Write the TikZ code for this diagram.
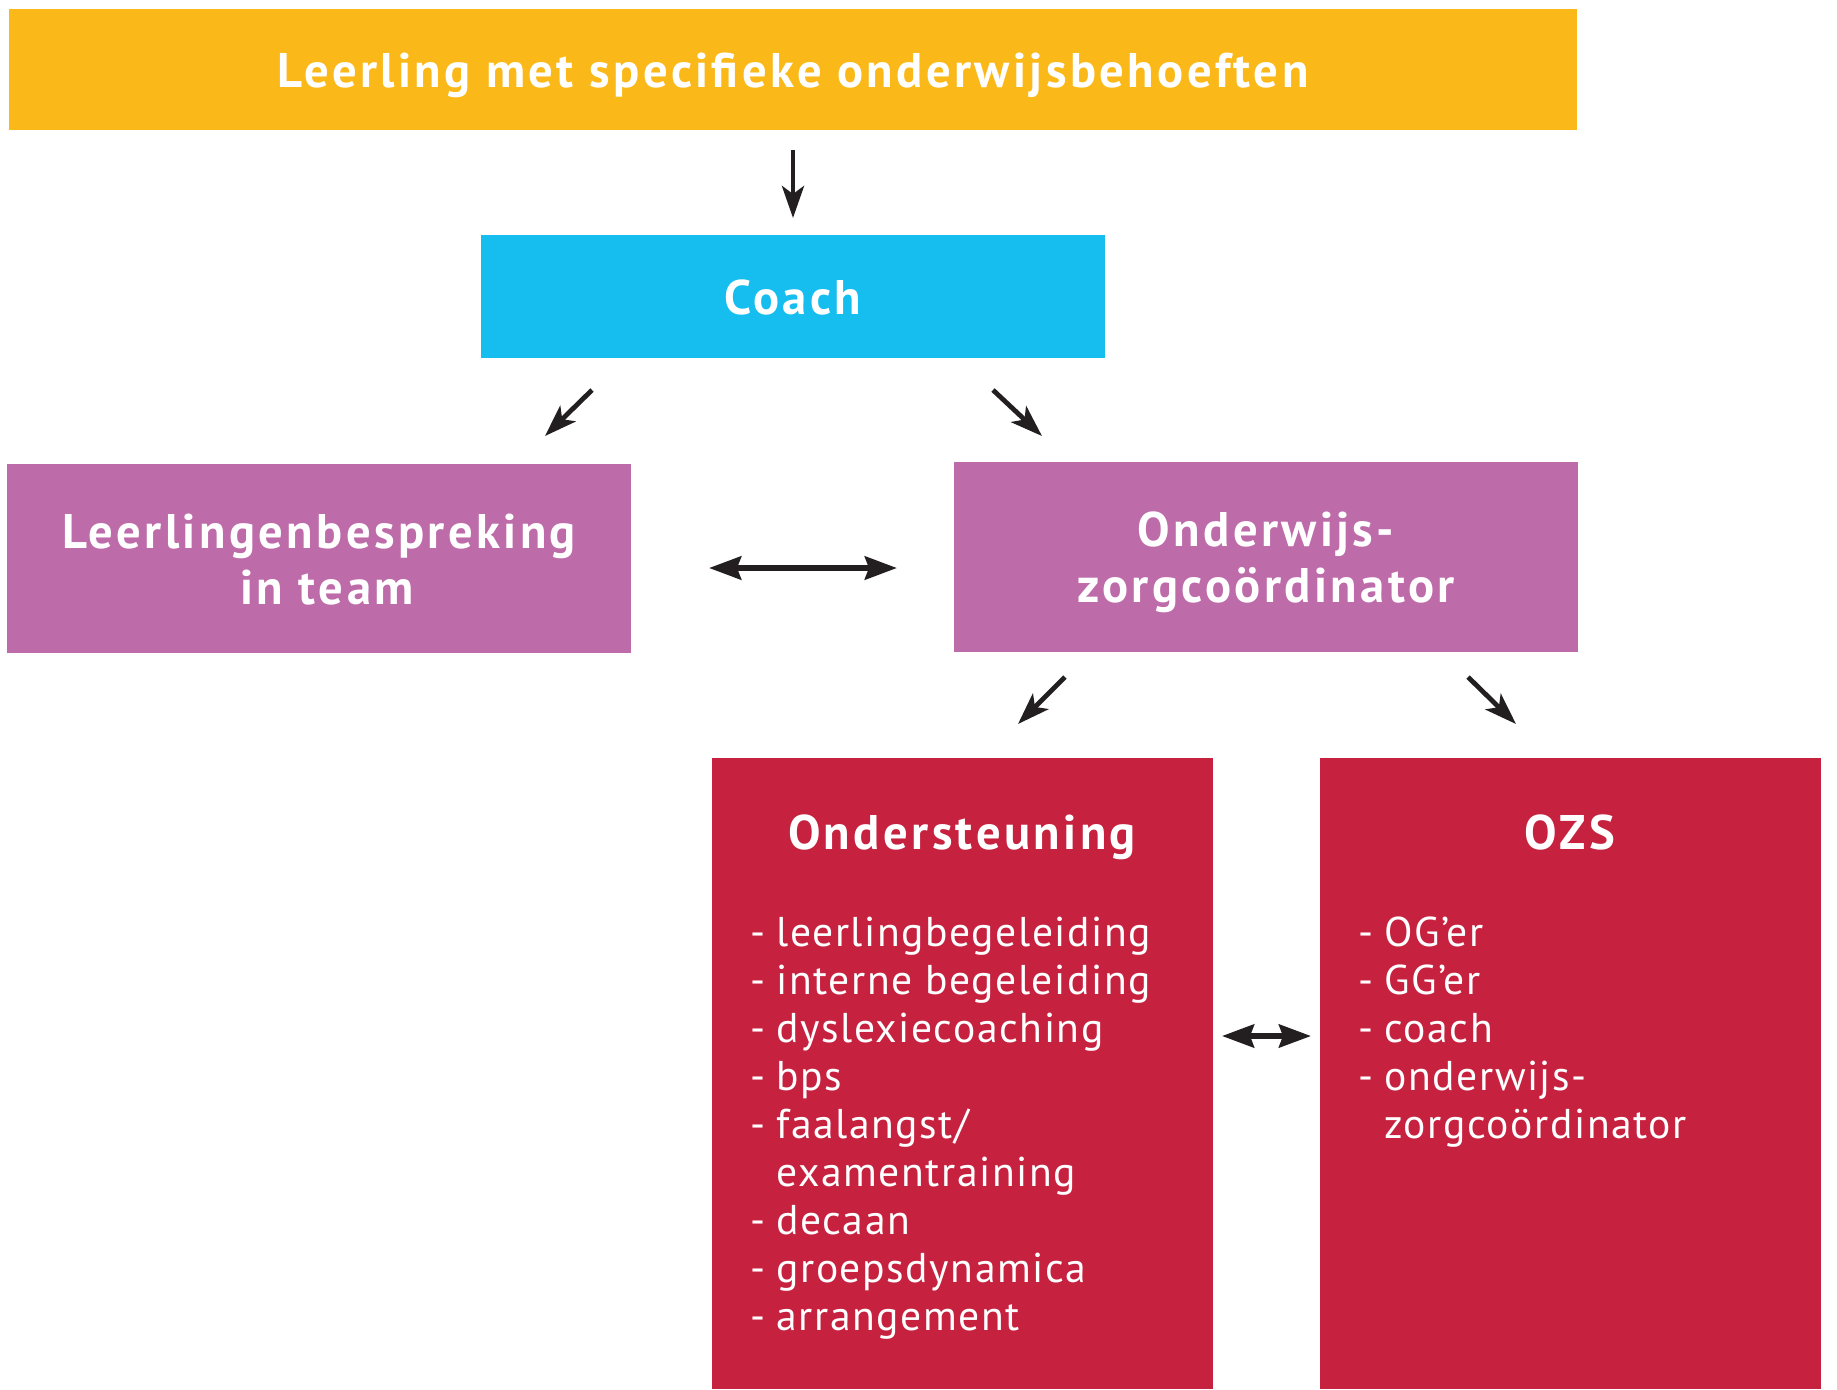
\documentclass[tikz,border=0pt]{standalone}
\usepackage{fontspec}
\setmainfont{PT Sans}
\usetikzlibrary{arrows.meta}
\definecolor{cyel}{HTML}{FBB919}
\definecolor{ccyan}{HTML}{16BEEF}
\definecolor{cpurp}{HTML}{BD6BA9}
\definecolor{cred}{HTML}{C6223F}
\definecolor{carr}{HTML}{231F20}
\begin{document}
\begin{tikzpicture}[x=0.5pt,y=-0.5pt,
  box/.style={rectangle, draw=none, inner sep=0pt, outer sep=0pt},
  hd/.style={text=white, font=\bfseries\fontsize{24.3}{28}\selectfont\addfontfeature{LetterSpace=7}, anchor=base, inner sep=0pt},
  li/.style={text=white, font=\fontsize{20.8}{24}\selectfont\addfontfeature{LetterSpace=3.8}, anchor=base west, inner sep=0pt},
  arr/.style={draw=carr, line width=2.4pt, -{Stealth[length=16pt,width=11pt,inset=4pt]}},
  darr/.style={draw=carr, line width=3pt, {Stealth[length=16pt,width=11.5pt,inset=2pt]}-{Stealth[length=16pt,width=11.5pt,inset=2pt]}},
]
\useasboundingbox (0,0) rectangle (1837,1389);
\fill[white] (0,0) rectangle (1837,1389);

% boxes
\node[box, fill=cyel, minimum width=784pt, minimum height=60.5pt] (top) at (793,69.5) {};
\node[box, fill=ccyan, minimum width=312pt, minimum height=61.5pt] (coach) at (793,296.5) {};
\node[box, fill=cpurp, minimum width=312pt, minimum height=94.5pt] (lb) at (319,558.5) {};
\node[box, fill=cpurp, minimum width=312pt, minimum height=95pt] (ozc) at (1266,557) {};
\node[box, fill=cred, minimum width=250.5pt, minimum height=315.5pt] (ond) at (962.5,1073.5) {};
\node[box, fill=cred, minimum width=250.5pt, minimum height=315.5pt] (ozs) at (1570.5,1073.5) {};

% headings
\node[hd] (ttop) at (793,87) {Leerling met specifieke onderwijsbehoeften};
\node[hd] (tcoach) at (793,314) {Coach};
\node[hd] (tlb1) at (319,548) {Leerlingenbespreking};
\node[hd] (tlb2) at (327,604) {in team};
\node[hd] (tozc1) at (1266,546) {Onderwijs-};
\node[hd] (tozc2) at (1266,602) {zorgcoördinator};
\node[hd] (tond) at (962,849) {Ondersteuning};
\node[hd] (tozs) at (1570,849) {OZS};

% lists
\foreach \t [count=\i from 0] in {%
  {\makebox[13pt][l]{-}leerlingbegeleiding},
  {\makebox[13pt][l]{-}interne begeleiding},
  {\makebox[13pt][l]{-}dyslexiecoaching},
  {\makebox[13pt][l]{-}bps},
  {\makebox[13pt][l]{-}faalangst/},
  {\makebox[13pt][l]{}examentraining},
  {\makebox[13pt][l]{-}decaan},
  {\makebox[13pt][l]{-}groepsdynamica},
  {\makebox[13pt][l]{-}arrangement}}
  \node[li] (ondl\i) at (750,946+48*\i) {\t};
\foreach \t [count=\i from 0] in {%
  {\makebox[13pt][l]{-}OG’er},
  {\makebox[13pt][l]{-}GG’er},
  {\makebox[13pt][l]{-}coach},
  {\makebox[13pt][l]{-}onderwijs-},
  {\makebox[13pt][l]{}zorgcoördinator}}
  \node[li] (ozsl\i) at (1358,946+48*\i) {\t};

% arrow end points
\coordinate (a0s) at (793,150);
\coordinate (a0e) at (793,218);
\coordinate (a1s) at (592,390);
\coordinate (a1e) at (545,436);
\coordinate (a2s) at (993,390);
\coordinate (a2e) at (1042,436);
\coordinate (a3s) at (1065,677);
\coordinate (a3e) at (1018,724);
\coordinate (a4s) at (1468,677);
\coordinate (a4e) at (1516,724);
\coordinate (d1s) at (709,568);
\coordinate (d1e) at (897,568);
\coordinate (d2s) at (1222,1036);
\coordinate (d2e) at (1311,1036);

\draw[arr] (a0s) -- (a0e);
\draw[arr] (a1s) -- (a1e);
\draw[arr] (a2s) -- (a2e);
\draw[arr] (a3s) -- (a3e);
\draw[arr] (a4s) -- (a4e);
\draw[darr] (d1s) -- (d1e);
\draw[darr, line width=2.8pt] (d2s) -- (d2e);
\end{tikzpicture}
\end{document}
